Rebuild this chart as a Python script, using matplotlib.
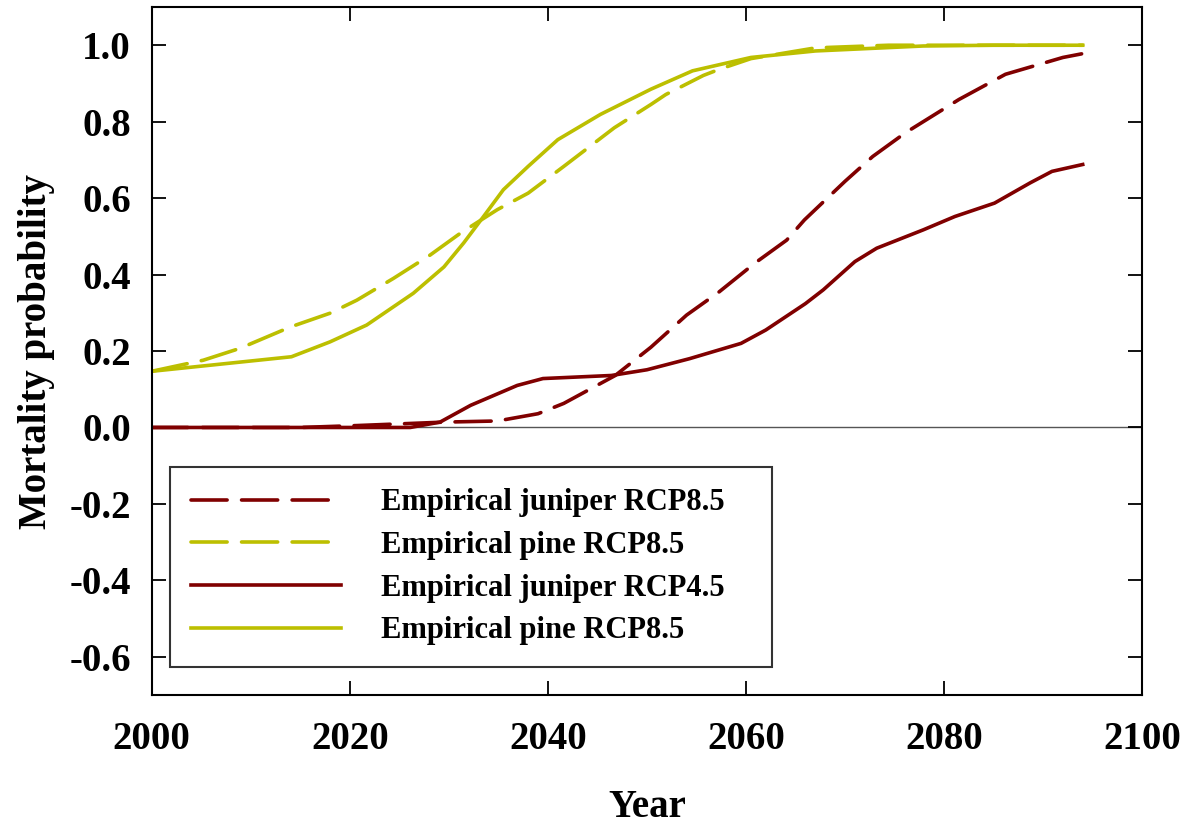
import matplotlib
matplotlib.use('Agg')
import matplotlib.pyplot as plt

# data
pine85_solid_x = [2000, 2014.1, 2018, 2021.7, 2026.4, 2029.5, 2031.5, 2033.5, 2035.5, 2038, 2041,
                  2045.3, 2050.4, 2054.6, 2060.5, 2067, 2077.9, 2085, 2094]
pine85_solid_y = [0.147, 0.185, 0.224, 0.268, 0.351, 0.42, 0.483, 0.552, 0.622, 0.683, 0.753,
                  0.819, 0.885, 0.933, 0.968, 0.985, 0.998, 1.0, 1.0]

pine85_dash_x = [2000, 2005.2, 2008.9, 2014, 2018, 2020.7, 2024.4, 2028.1, 2031.2, 2034.9, 2038,
                 2041.6, 2046.7, 2050.4, 2051.9, 2055.7, 2057.3, 2060.5, 2067, 2074.4, 2085, 2094]
pine85_dash_y = [0.147, 0.176, 0.207, 0.263, 0.299, 0.333, 0.39, 0.451, 0.509, 0.57, 0.613,
                 0.683, 0.784, 0.845, 0.871, 0.921, 0.937, 0.965, 0.993, 1.0, 1.0, 1.0]

jun85_x = [2000, 2015, 2020.7, 2029.5, 2034.9, 2039, 2041.6, 2045.3, 2046.8, 2050.4, 2054, 2057.3,
           2060.9, 2064.1, 2065.9, 2070, 2072.8, 2076.1, 2081.5, 2086.2, 2092, 2094]
jun85_y = [0.0, 0.0, 0.005, 0.014, 0.017, 0.036, 0.063, 0.115, 0.136, 0.21, 0.294, 0.355,
           0.43, 0.49, 0.543, 0.644, 0.709, 0.771, 0.858, 0.924, 0.968, 0.978]

jun45_x = [2000, 2026.1, 2029.1, 2032.2, 2036.9, 2039.5, 2046.4, 2050, 2054.3, 2059.5, 2062, 2066,
           2067.8, 2071, 2073.2, 2077.9, 2081.1, 2085.1, 2088.7, 2090.9, 2094]
jun45_y = [0.0, 0.0, 0.014, 0.058, 0.11, 0.128, 0.136, 0.151, 0.18, 0.22, 0.255, 0.324,
           0.36, 0.434, 0.469, 0.517, 0.552, 0.587, 0.64, 0.67, 0.688]

labels = ['Empirical juniper RCP8.5', 'Empirical pine RCP8.5',
          'Empirical juniper RCP4.5', 'Empirical pine RCP8.5']

RED = '#800000'
YEL = '#bcbf00'

plt.rcParams['font.family'] = ['Liberation Serif', 'DejaVu Serif']
plt.rcParams['font.weight'] = 'bold'

fig = plt.figure(figsize=(11.86, 8.24), dpi=100)
ax = fig.add_axes([0.128, 0.1565, 0.835, 0.835])

ax.axhline(0, color='#555555', lw=1, zorder=1)

dash = (0, (10, 4))
ax.plot(jun85_x, jun85_y, color=RED, lw=2.6, linestyle=dash, dash_capstyle='round', label=labels[0])
ax.plot(pine85_dash_x, pine85_dash_y, color=YEL, lw=2.6, linestyle=dash, dash_capstyle='round', label=labels[1])
ax.plot(jun45_x, jun45_y, color=RED, lw=2.6, label=labels[2])
ax.plot(pine85_solid_x, pine85_solid_y, color=YEL, lw=2.6, label=labels[3])

ax.set_xlim(2000, 2100)
ax.set_ylim(-0.7, 1.1)
ax.set_xticks([2000, 2020, 2040, 2060, 2080, 2100])
ax.set_yticks([-0.6, -0.4, -0.2, 0.0, 0.2, 0.4, 0.6, 0.8, 1.0])
ax.set_yticklabels(['%.1f' % v for v in ax.get_yticks()])
ax.tick_params(axis='x', direction='in', top=True, length=10, width=1.3, labelsize=28, pad=19)
ax.tick_params(axis='y', direction='in', right=True, length=10, width=1.3, labelsize=28, pad=15)
for s in ax.spines.values():
    s.set_linewidth(1.5)

ax.set_xlabel('Year', fontsize=28, fontweight='bold', labelpad=22)
ax.set_ylabel('Mortality probability', fontsize=28, fontweight='bold', labelpad=10)

leg = ax.legend(loc='lower left', bbox_to_anchor=(0.018, 0.041, 0.608, 0.292), mode='expand',
                fontsize=22, frameon=True, fancybox=False, handlelength=4.9, handletextpad=1.32,
                borderpad=0.7, labelspacing=0.45, borderaxespad=0)
leg.get_frame().set_edgecolor('black')
leg.get_frame().set_linewidth(1.5)

fig.savefig('out.png', dpi=100)
